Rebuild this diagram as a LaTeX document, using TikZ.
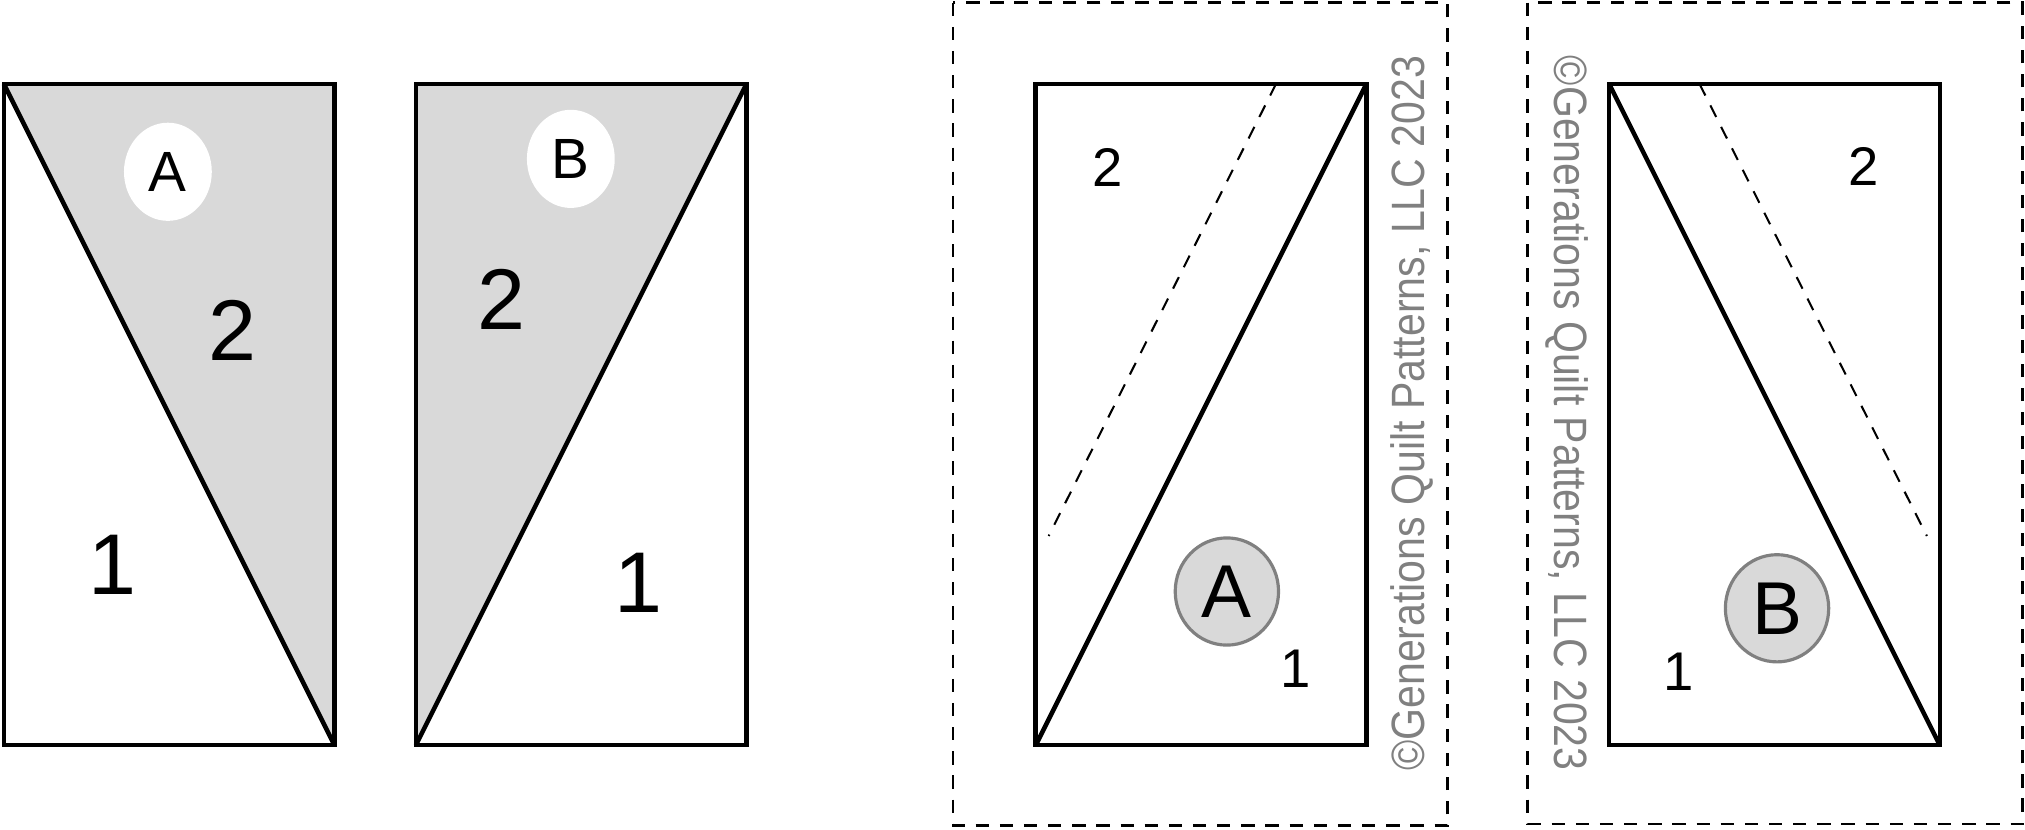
\documentclass[tikz,border=0pt]{standalone}
\usepackage{fontspec}
\setmainfont{Liberation Sans}
\usetikzlibrary{shapes.geometric}

\definecolor{patchgray}{HTML}{D9D9D9}
\definecolor{markgray}{HTML}{808080}

\tikzset{
    block/.style={line width=1pt, black},
    cutline/.style={line width=0.6pt, dash pattern=on 1.03mm off 0.84mm},
    sewline/.style={line width=0.45pt, dash pattern=on 1mm off 0.86mm},
    biglabel/.style={font=\fontsize{19}{19}\selectfont},
    smalllabel/.style={font=\fontsize{12}{12}\selectfont},
    whitedot/.style={ellipse, fill=white, minimum width=6.8mm, minimum height=7.6mm, inner sep=0pt, font=\fontsize{12.5}{12.5}\selectfont},
    graydot/.style={ellipse, draw=markgray, line width=0.7pt, fill=patchgray, minimum width=8mm, minimum height=8.3mm, inner sep=0pt, font=\fontsize{16.5}{16.5}\selectfont},
    stamp/.style={text=markgray, font=\fontsize{10.3}{10.3}\selectfont, inner sep=0pt}
}

\begin{document}
\begin{tikzpicture}[x=0.1mm, y=-0.1mm]
    \useasboundingbox (0,0) rectangle (1568,642);

    % Left pair of units
    \coordinate (a1) at (3,65);
    \coordinate (a2) at (259,65);
    \coordinate (a3) at (259,577);
    \coordinate (a4) at (3,577);

    \coordinate (b1) at (322,65);
    \coordinate (b2) at (578,65);
    \coordinate (b3) at (578,577);
    \coordinate (b4) at (322,577);

    % Shade piece 2
    \fill[patchgray] (a1) -- (a2) -- (a3) -- cycle;
    \fill[patchgray] (b1) -- (b2) -- (b4) -- cycle;

    % Outlines and seams
    \draw[block] (a1) -- (a2) -- (a3) -- (a4) -- cycle;
    \draw[block] (a1) -- (a3);
    \draw[block] (b1) -- (b2) -- (b3) -- (b4) -- cycle;
    \draw[block] (b2) -- (b4);

    % Add labels
    \node[whitedot] (dotA) at (130,133) {A};
    \node[whitedot] (dotB) at (442,123) {B};
    \node[biglabel] (pA2) at (180,256) {2};
    \node[biglabel] (pA1) at (87,437) {1};
    \node[biglabel] (pB2) at (388,232) {2};
    \node[biglabel] (pB1) at (494,451) {1};

    % Right pair of paper templates
    \draw[cutline] (738,2) rectangle (1121,639);
    \draw[cutline] (1183,2) rectangle (1566,638);

    \coordinate (c1) at (802,65);
    \coordinate (c2) at (1058,65);
    \coordinate (c3) at (1058,577);
    \coordinate (c4) at (802,577);
    \coordinate (cs1) at (988,65);
    \coordinate (cs2) at (812,415);

    \coordinate (d1) at (1246,65);
    \coordinate (d2) at (1502,65);
    \coordinate (d3) at (1502,577);
    \coordinate (d4) at (1246,577);
    \coordinate (ds1) at (1316,65);
    \coordinate (ds2) at (1492,415);

    \draw[block] (c1) -- (c2) -- (c3) -- (c4) -- cycle;
    \draw[block] (c4) -- (c2);
    \draw[sewline] (cs1) -- (cs2);

    \draw[block] (d1) -- (d2) -- (d3) -- (d4) -- cycle;
    \draw[block] (d1) -- (d3);
    \draw[sewline] (ds1) -- (ds2);

    \node[smalllabel] (tA2) at (858,130) {2};
    \node[smalllabel] (tA1) at (1003,518) {1};
    \node[graydot] (markA) at (950,458) {A};

    \node[smalllabel] (tB2) at (1443,129) {2};
    \node[smalllabel] (tB1) at (1300,520) {1};
    \node[graydot] (markB) at (1376,471) {B};

    % Copyright notes
    \node[stamp, rotate=90] (noteA) at (1093,320) {\scalebox{0.878}[1]{©Generations Quilt Patterns, LLC 2023}};
    \node[stamp, rotate=-90] (noteB) at (1213,320) {\scalebox{0.878}[1]{©Generations Quilt Patterns, LLC 2023}};

\end{tikzpicture}
\end{document}
